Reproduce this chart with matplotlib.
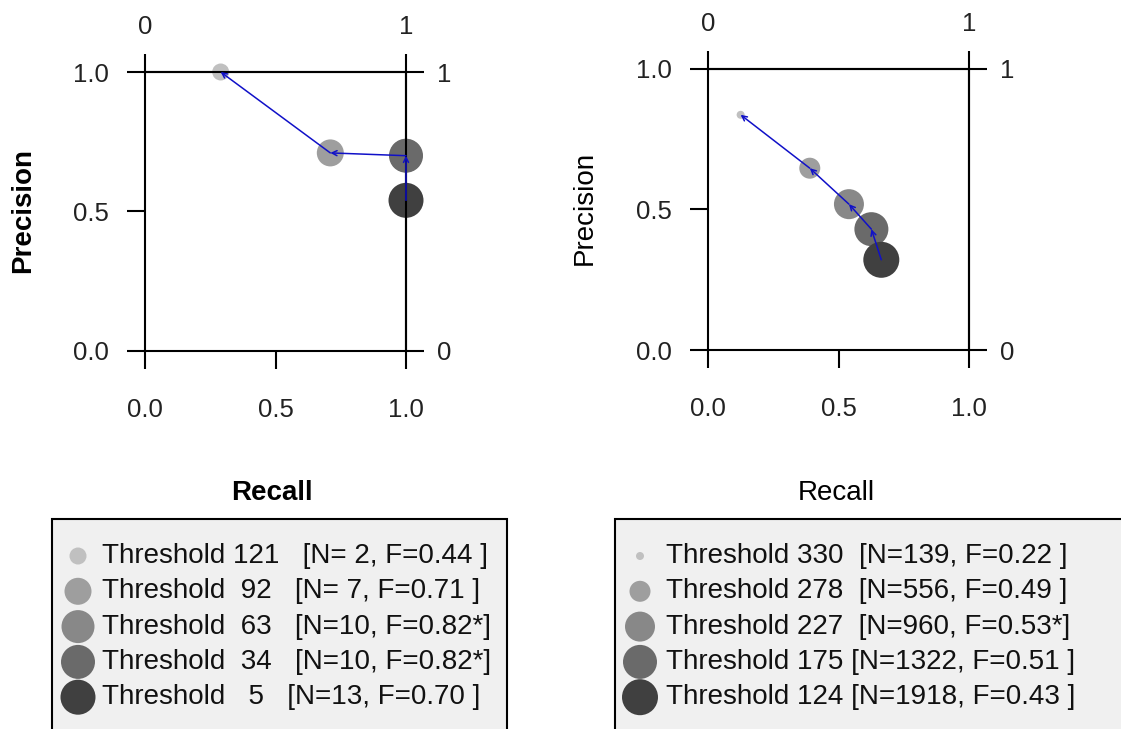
import numpy as np
import matplotlib
matplotlib.use("Agg")
from matplotlib import pyplot as plt
from matplotlib.patches import Rectangle

plt.rcParams['font.family'] = ['Liberation Sans', 'DejaVu Sans']

# left panel data
thr_a = [121, 92, 63, 34, 5]
n_a = [2, 7, 10, 10, 13]
f_a = [0.44, 0.71, 0.82, 0.82, 0.70]
best_a = [False, False, True, True, False]
rec_a = [0.29, 0.71, 1.0, 1.0, 1.0]
prec_a = [1.0, 0.71, 0.70, 0.70, 0.54]

# right panel data
thr_b = [330, 278, 227, 175, 124]
n_b = [139, 556, 960, 1322, 1918]
f_b = [0.22, 0.49, 0.53, 0.51, 0.43]
best_b = [False, False, True, False, False]
rec_b = [0.125, 0.39, 0.54, 0.626, 0.664]
prec_b = [0.837, 0.647, 0.519, 0.43, 0.321]

grays = ['#c0c0c0', '#9e9e9e', '#888888', '#6a6a6a', '#404040']
diam_a = [17, 27, 33, 34, 35]
diam_b = [8, 21, 30, 34, 36]

W, H = 1121, 729
fig = plt.figure(figsize=(W / 100, H / 100), dpi=100)

def px_axes(x0, x1, ytop, ybot):
    return fig.add_axes([x0 / W, 1 - ybot / H, (x1 - x0) / W, (ybot - ytop) / H])

def labels_a(t, n, f, b):
    return ["Threshold %3d   [N=%2d, F=%.2f%s]" % (t[i], n[i], f[i], '*' if b[i] else ' ')
            for i in range(len(t))]

def labels_b(t, n, f, b):
    out = []
    for i in range(len(t)):
        pad = ' ' * (1 + 4 - len(str(n[i])))
        out.append("Threshold %d%s[N=%d, F=%.2f%s]" % (t[i], pad, n[i], f[i], '*' if b[i] else ' '))
    return out

def pr_panel(ax, rec, prec, diam):
    ax.set_xlim(0, 1)
    ax.set_ylim(0, 1)
    s = [(d * 0.72) ** 2 for d in diam]
    ax.scatter(rec, prec, s=s, c=grays, linewidths=0, clip_on=False, zorder=1)
    # arrows from low threshold to high threshold
    for i in range(len(rec) - 1, 0, -1):
        if rec[i] == rec[i - 1] and prec[i] == prec[i - 1]:
            continue
        ax.annotate('', xy=(rec[i - 1], prec[i - 1]), xytext=(rec[i], prec[i]),
                    arrowprops=dict(arrowstyle='->', color='#1010c8', lw=1.1,
                                    shrinkA=0, shrinkB=0, mutation_scale=9),
                    annotation_clip=False, zorder=3)
    for sp in ax.spines.values():
        sp.set_linewidth(1.5)
        sp.set_zorder(2.5)
    ax.set_xticks([0, 0.5, 1])
    ax.set_xticklabels(['0.0', '0.5', '1.0'])
    ax.set_yticks([0, 0.5, 1])
    ax.set_yticklabels(['0.0', '0.5', '1.0'])
    ax.tick_params(axis='x', direction='out', length=13, width=1.5, pad=21,
                   labelsize=18.5, labelcolor='#222222')
    ax.tick_params(axis='y', direction='out', length=13, width=1.5, pad=13,
                   labelsize=18.5, labelcolor='#222222')
    top = ax.secondary_xaxis('top')
    top.set_xticks([0, 1])
    top.set_xticklabels(['0', '1'])
    top.tick_params(direction='out', length=13, width=1.5, pad=11,
                    labelsize=18.5, labelcolor='#222222')
    top.spines['top'].set_linewidth(1.5)
    right = ax.secondary_yaxis('right')
    right.set_yticks([0, 1])
    right.set_yticklabels(['0', '1'])
    right.tick_params(direction='out', length=13, width=1.5, pad=9,
                      labelsize=18.5, labelcolor='#222222')
    right.spines['right'].set_linewidth(1.5)

ax1 = px_axes(145, 406, 72, 351)
pr_panel(ax1, rec_a, prec_a, diam_a)
ax2 = px_axes(708, 969, 69, 350)
pr_panel(ax2, rec_b, prec_b, diam_b)

# overlay in pixel coordinates for axis titles and legends
lax = fig.add_axes([0, 0, 1, 1], zorder=-1)
lax.set_xlim(0, W)
lax.set_ylim(H, 0)
lax.axis('off')

lax.text(23, 210, 'Precision', rotation=90, ha='center', va='center', fontsize=20, fontweight='bold')
lax.text(272, 493, 'Recall', ha='center', va='center', fontsize=20, fontweight='bold')
lax.text(585, 208, 'Precision', rotation=90, ha='center', va='center', fontsize=20)
lax.text(836, 493, 'Recall', ha='center', va='center', fontsize=20)

def legend_box(x0, x1, ytop, mx, tx, labels, diam):
    lax.add_patch(Rectangle((x0, ytop), x1 - x0, H + 20 - ytop, facecolor='#f0f0f0',
                            edgecolor='black', lw=1.5, clip_on=False))
    rows = [556 + 35.3 * i for i in range(len(labels))]
    s = [(d * 0.72) ** 2 for d in diam]
    lax.scatter([mx] * len(rows), rows, s=s, c=grays, linewidths=0, zorder=3)
    for r, lab in zip(rows, labels):
        lax.text(tx, r, lab, ha='left', va='center', fontsize=20, color='#111111', zorder=4)

legend_box(52, 507, 519, 78, 102, labels_a(thr_a, n_a, f_a, best_a), diam_a)
legend_box(615, 1140, 519, 640, 666, labels_b(thr_b, n_b, f_b, best_b), diam_b)

fig.savefig('out.png', dpi=100)
